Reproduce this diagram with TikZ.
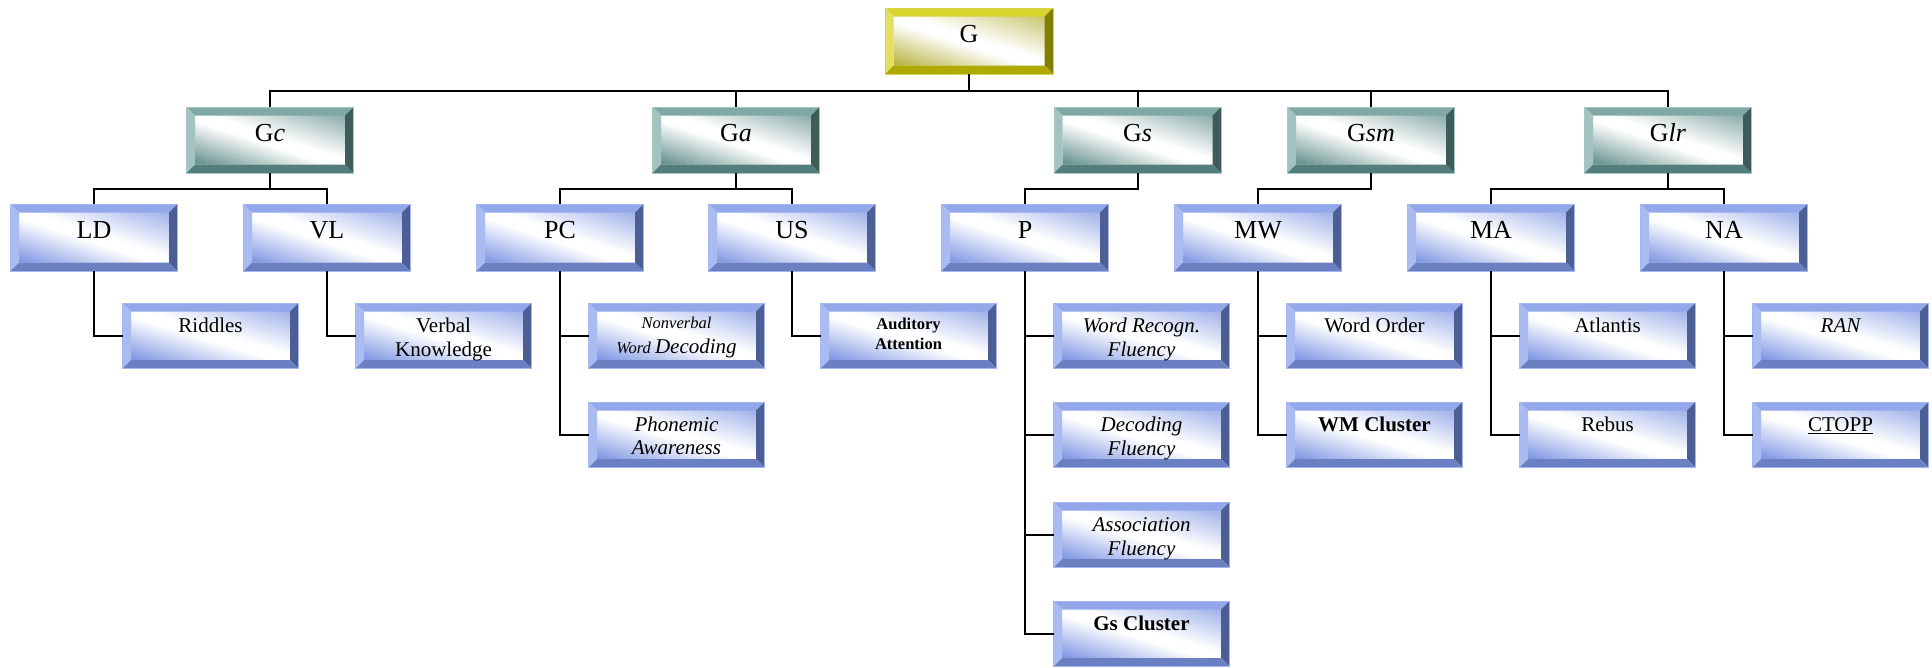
\documentclass[tikz,border=0pt]{standalone}
\usepackage{fontspec}
\setmainfont{Liberation Serif}
\usetikzlibrary{calc}
\definecolor{bT}{HTML}{92A8EA}
\definecolor{bL}{HTML}{A9BBF1}
\definecolor{bR}{HTML}{4C5E94}
\definecolor{bB}{HTML}{6A80C2}
\definecolor{bS}{HTML}{7A93E2}
\definecolor{bO}{HTML}{A3B6EE}
\definecolor{tT}{HTML}{80A9A5}
\definecolor{tL}{HTML}{A2C3C0}
\definecolor{tR}{HTML}{3E5C59}
\definecolor{tB}{HTML}{547E7B}
\definecolor{tS}{HTML}{5E8C88}
\definecolor{tO}{HTML}{A6C6C3}
\definecolor{yT}{HTML}{D8D32D}
\definecolor{yL}{HTML}{E2DF62}
\definecolor{yR}{HTML}{807F00}
\definecolor{yB}{HTML}{AEAA00}
\definecolor{yS}{HTML}{B4B03A}
\definecolor{yO}{HTML}{DAD64A}
\newcommand\bevelfill[1]{%
 \coordinate (isw) at ([shift={(8.5pt,8.5pt)}]path picture bounding box.south west);
 \coordinate (ise) at ([shift={(-8.5pt,8.5pt)}]path picture bounding box.south east);
 \coordinate (inw) at ([shift={(8.5pt,-8.5pt)}]path picture bounding box.north west);
 \foreach \s in {0,0.05,...,2.0}{%
   \pgfmathtruncatemacro\pc{(\s+0.025)<0.9 ? 100*(0.9-\s-0.025)/0.9 : ((\s+0.025)>1.1 ? 72*(\s+0.025-1.1)/0.9 : 0)}%
   \pgfmathsetmacro\sn{\s+0.07}%
   \fill[#1S!\pc!white] ($(isw)!\s!(ise)$) -- ($(isw)!\sn!(ise)$) -- ($(isw)!\sn!(inw)$) -- ($(isw)!\s!(inw)$) -- cycle;
 }
 \fill[#1T] (path picture bounding box.north west) -- (path picture bounding box.north east) -- ([shift={(-8.5pt,-8.5pt)}]path picture bounding box.north east) -- ([shift={(8.5pt,-8.5pt)}]path picture bounding box.north west) -- cycle;
 \fill[#1L] (path picture bounding box.north west) -- ([shift={(8.5pt,-8.5pt)}]path picture bounding box.north west) -- ([shift={(8.5pt,8.5pt)}]path picture bounding box.south west) -- (path picture bounding box.south west) -- cycle;
 \fill[#1R] (path picture bounding box.north east) -- (path picture bounding box.south east) -- ([shift={(-8.5pt,8.5pt)}]path picture bounding box.south east) -- ([shift={(-8.5pt,-8.5pt)}]path picture bounding box.north east) -- cycle;
 \fill[#1B] (path picture bounding box.south west) -- ([shift={(8.5pt,8.5pt)}]path picture bounding box.south west) -- ([shift={(-8.5pt,8.5pt)}]path picture bounding box.south east) -- (path picture bounding box.south east) -- cycle;
}
\tikzset{
  bx/.style={rectangle, inner sep=0pt, outer sep=0pt, line width=0.8pt},
  ybox/.style={bx, draw=yO, minimum width=168pt, minimum height=66pt, path picture={\bevelfill{y}}},
  tbox/.style={bx, draw=tO, minimum width=167pt, minimum height=66pt, path picture={\bevelfill{t}}},
  mbox/.style={bx, draw=bO, minimum width=167pt, minimum height=67pt, path picture={\bevelfill{b}}},
  lbox/.style={bx, draw=bO, minimum width=176pt, minimum height=65.5pt, path picture={\bevelfill{b}}},
  tbig/.style={anchor=base, inner sep=0pt, font=\fontsize{26}{30}\selectfont},
  tsm/.style={anchor=north, inner sep=0pt, align=center, font=\fontsize{21}{24}\selectfont},
  conn/.style={draw=black, line width=2pt},
}
\begin{document}
\begin{tikzpicture}[x=1pt, y=-1pt]
\useasboundingbox (0,0) rectangle (1932,667);
% level 1
\node[ybox] (G) at (969,41) {};
% level 2
\node[tbox] (Gc) at (270,140) {};
\node[tbox] (Ga) at (736,140) {};
\node[tbox] (Gs) at (1137.5,140) {};
\node[tbox] (Gsm) at (1371,140) {};
\node[tbox] (Glr) at (1668,140) {};
% level 3
\node[mbox] (LD) at (94,237.5) {};
\node[mbox] (VL) at (327,237.5) {};
\node[mbox] (PC) at (560,237.5) {};
\node[mbox] (US) at (792,237.5) {};
\node[mbox] (P) at (1025,237.5) {};
\node[mbox] (MW) at (1258,237.5) {};
\node[mbox] (MA) at (1491,237.5) {};
\node[mbox] (NA) at (1724,237.5) {};
% level 4
\node[lbox] (Rid) at (210.5,335.75) {};
\node[lbox] (VK) at (443.5,335.75) {};
\node[lbox] (NWD) at (676.5,335.75) {};
\node[lbox] (PA) at (676.5,434.75) {};
\node[lbox] (AA) at (908.5,335.75) {};
\node[lbox] (WRF) at (1141.5,335.75) {};
\node[lbox] (DF) at (1141.5,434.75) {};
\node[lbox] (AF) at (1141.5,534.75) {};
\node[lbox] (GSC) at (1141.5,633.75) {};
\node[lbox] (WO) at (1374.5,335.75) {};
\node[lbox] (WMC) at (1374.5,434.75) {};
\node[lbox] (Atl) at (1607.5,335.75) {};
\node[lbox] (Reb) at (1607.5,434.75) {};
\node[lbox] (RAN) at (1840.5,335.75) {};
\node[lbox] (CTO) at (1840.5,434.75) {};
% texts levels 1-3
\node[tbig] (G-t) at ([yshift=-34pt]G.north) {G};
\node[tbig] (Gc-t) at ([yshift=-34pt]Gc.north) {G\textit{c}};
\node[tbig] (Ga-t) at ([yshift=-34pt]Ga.north) {G\textit{a}};
\node[tbig] (Gs-t) at ([yshift=-34pt]Gs.north) {G\textit{s}};
\node[tbig] (Gsm-t) at ([yshift=-34pt]Gsm.north) {G\textit{sm}};
\node[tbig] (Glr-t) at ([yshift=-34pt]Glr.north) {G\textit{lr}};
\node[tbig] (LD-t) at ([yshift=-34pt]LD.north) {LD};
\node[tbig] (VL-t) at ([yshift=-34pt]VL.north) {VL};
\node[tbig] (PC-t) at ([yshift=-34pt]PC.north) {PC};
\node[tbig] (US-t) at ([yshift=-34pt]US.north) {US};
\node[tbig] (P-t) at ([yshift=-34pt]P.north) {P};
\node[tbig] (MW-t) at ([yshift=-34pt]MW.north) {MW};
\node[tbig] (MA-t) at ([yshift=-34pt]MA.north) {MA};
\node[tbig] (NA-t) at ([yshift=-34pt]NA.north) {NA};
% texts level 4
\node[tsm] (Rid-t) at ([yshift=-15pt]Rid.north) {Riddles};
\node[tsm] (VK-t) at ([yshift=-15pt]VK.north) {Verbal\\Knowledge};
\node[tsm, font=\fontsize{16.5}{25}\selectfont\itshape] (NWD-t) at ([yshift=-14pt]NWD.north) {Nonverbal\\Word {\fontsize{21}{24}\selectfont Decoding}};
\node[tsm, font=\fontsize{21}{23}\selectfont\itshape] (PA-t) at ([yshift=-15pt]PA.north) {Phonemic\\Awareness};
\node[tsm, font=\fontsize{16.5}{20}\selectfont\bfseries] (AA-t) at ([yshift=-15pt]AA.north) {Auditory\\Attention};
\node[tsm, font=\fontsize{21}{24}\selectfont\itshape] (WRF-t) at ([yshift=-15pt]WRF.north) {Word Recogn.\\Fluency};
\node[tsm, font=\fontsize{21}{24}\selectfont\itshape] (DF-t) at ([yshift=-15pt]DF.north) {Decoding\\Fluency};
\node[tsm, font=\fontsize{21}{24}\selectfont\itshape] (AF-t) at ([yshift=-15pt]AF.north) {Association\\Fluency};
\node[tsm, font=\fontsize{21}{24}\selectfont\bfseries] (GSC-t) at ([yshift=-15pt]GSC.north) {Gs Cluster};
\node[tsm] (WO-t) at ([yshift=-15pt]WO.north) {Word Order};
\node[tsm, font=\fontsize{21}{24}\selectfont\bfseries] (WMC-t) at ([yshift=-15pt]WMC.north) {WM Cluster};
\node[tsm] (Atl-t) at ([yshift=-15pt]Atl.north) {Atlantis};
\node[tsm] (Reb-t) at ([yshift=-15pt]Reb.north) {Rebus};
\node[tsm, font=\fontsize{21}{24}\selectfont\itshape] (RAN-t) at ([yshift=-15pt]RAN.north) {RAN};
\node[tsm] (CTO-t) at ([yshift=-15pt]CTO.north) {\underline{CTOPP}};
% bus coordinates
\coordinate (bus1) at (0,91);
\coordinate (bus2) at (0,189);
% connectors level 1-2
\foreach \c in {Gc,Ga,Gs,Gsm,Glr}{
  \draw[conn] (G.south) -- (G.south |- bus1) -| (\c.north);
}
% level 2-3
\draw[conn] (Gc.south) -- (Gc.south |- bus2) -| (LD.north);
\draw[conn] (Gc.south) -- (Gc.south |- bus2) -| (VL.north);
\draw[conn] (Ga.south) -- (Ga.south |- bus2) -| (PC.north);
\draw[conn] (Ga.south) -- (Ga.south |- bus2) -| (US.north);
\draw[conn] (Gs.south) -- (Gs.south |- bus2) -| (P.north);
\draw[conn] (Gsm.south) -- (Gsm.south |- bus2) -| (MW.north);
\draw[conn] (Glr.south) -- (Glr.south |- bus2) -| (MA.north);
\draw[conn] (Glr.south) -- (Glr.south |- bus2) -| (NA.north);
% level 3-4
\draw[conn] (LD.south) |- (Rid.west);
\draw[conn] (VL.south) |- (VK.west);
\draw[conn] (PC.south) |- (NWD.west);
\draw[conn] (PC.south) |- (PA.west);
\draw[conn] (US.south) |- (AA.west);
\draw[conn] (P.south) |- (WRF.west);
\draw[conn] (P.south) |- (DF.west);
\draw[conn] (P.south) |- (AF.west);
\draw[conn] (P.south) |- (GSC.west);
\draw[conn] (MW.south) |- (WO.west);
\draw[conn] (MW.south) |- (WMC.west);
\draw[conn] (MA.south) |- (Atl.west);
\draw[conn] (MA.south) |- (Reb.west);
\draw[conn] (NA.south) |- (RAN.west);
\draw[conn] (NA.south) |- (CTO.west);
\end{tikzpicture}
\end{document}
